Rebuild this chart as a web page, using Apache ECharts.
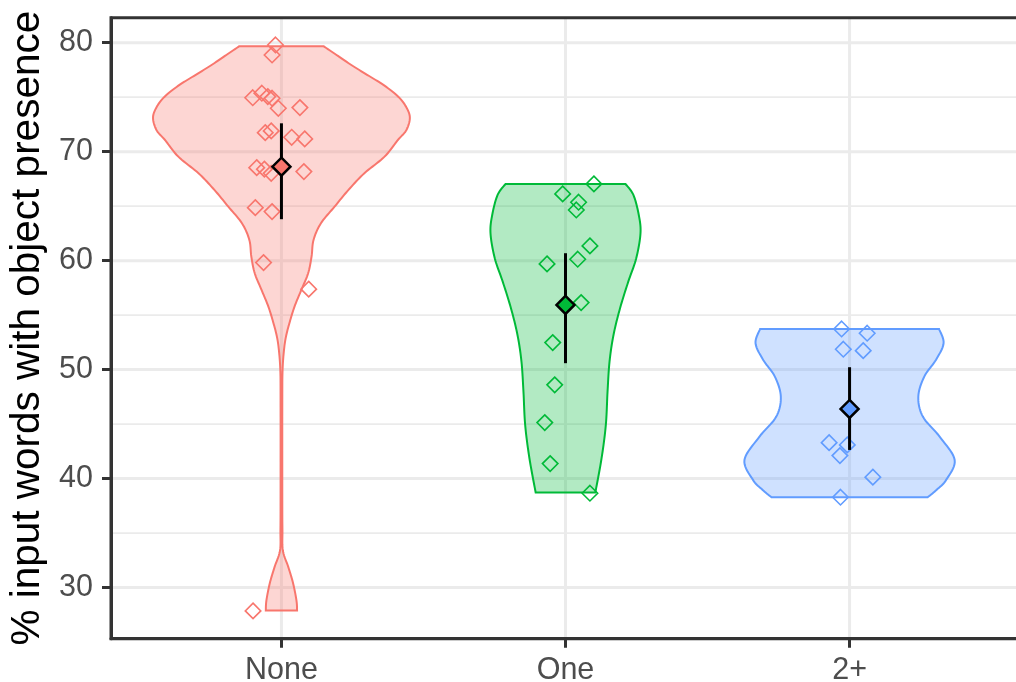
<!DOCTYPE html>
<html><head><meta charset="utf-8">
<script src="https://cdn.jsdelivr.net/npm/echarts@6/dist/echarts.min.js"></script>
<style>html,body{margin:0;padding:0;background:#fff}#c{width:1016px;height:682px}</style>
</head><body><div id="c"></div>
<script>
const categories = ['None', 'One', '2+'];
const yTicks = [30, 40, 50, 60, 70, 80];
const yMinorLines = [35, 45, 55, 65, 75];
const yTitle = '% input words with object presence';

// violin outlines: y value and half-width (category units)
const noneViolinY = [79.66, 78.87, 77.95, 77.03, 76.12, 75.20, 74.28, 73.18, 71.99, 71.07, 69.54, 68.02, 66.49, 64.95, 63.43, 61.90, 60.37, 58.84, 57.31, 55.78, 54.26, 53.03, 51.81, 49.97, 47.2, 38.0, 35.3, 33.4, 31.9, 30.4, 28.8, 27.89];
const noneViolinW = [0.149, 0.194, 0.246, 0.303, 0.359, 0.405, 0.435, 0.452, 0.440, 0.410, 0.363, 0.292, 0.236, 0.187, 0.139, 0.113, 0.106, 0.094, 0.070, 0.046, 0.028, 0.016, 0.009, 0.004, 0.003, 0.003, 0.0035, 0.005, 0.024, 0.041, 0.053, 0.055];
const oneViolinY = [67.04, 66.03, 64.19, 62.51, 60.22, 58.07, 55.63, 53.18, 50.73, 47.98, 44.93, 41.87, 38.72];
const oneViolinW = [0.211, 0.239, 0.258, 0.264, 0.249, 0.221, 0.192, 0.169, 0.155, 0.148, 0.142, 0.127, 0.105];
const twoViolinY = [53.73, 52.42, 50.89, 49.36, 47.52, 45.69, 43.85, 41.71, 39.88, 38.96, 38.29];
const twoViolinW = [0.315, 0.331, 0.304, 0.263, 0.242, 0.258, 0.317, 0.370, 0.340, 0.306, 0.275];

// individual points: jitter offset (category units) and value
const noneJitter = [-0.021, -0.033, -0.101, -0.069, -0.048, -0.033, -0.011, 0.065, -0.057, -0.036, 0.036, 0.082, -0.087, -0.060, -0.036, 0.079, -0.092, -0.033, -0.063, 0.096, -0.100];
const noneValues = [79.79, 78.87, 74.95, 75.36, 75.05, 74.90, 73.98, 74.04, 71.74, 71.90, 71.32, 71.17, 68.53, 68.39, 68.01, 68.17, 64.86, 64.50, 59.82, 57.38, 27.86];
const oneJitter = [0.100, -0.010, 0.046, 0.038, 0.086, 0.043, -0.065, 0.055, -0.045, -0.038, -0.073, -0.054, 0.086];
const oneValues = [67.04, 66.12, 65.36, 64.65, 61.35, 60.13, 59.70, 56.15, 52.48, 48.60, 45.14, 41.38, 38.66];
const twoJitter = [-0.028, 0.062, -0.022, 0.048, -0.072, -0.008, -0.034, 0.082, -0.032];
const twoValues = [53.73, 53.34, 51.87, 51.74, 43.30, 43.09, 42.11, 40.13, 38.29];

const means = [68.62, 55.94, 46.39];
const errLow = [63.80, 50.59, 42.63];
const errHigh = [72.60, 60.68, 50.22];

const colors = ['#F8766D', '#00BA38', '#619CFF'];
const fills = ['rgba(248,118,109,0.3)', 'rgba(0,186,56,0.3)', 'rgba(97,156,255,0.3)'];
const FONT = '"Liberation Sans", Arial, sans-serif';

function splineSample(pts, n) {
  const out = [];
  for (let i = 0; i < pts.length - 1; i++) {
    const p0 = pts[i - 1] || pts[i], p1 = pts[i], p2 = pts[i + 1], p3 = pts[i + 2] || pts[i + 1];
    for (let k = 0; k < n; k++) {
      const t = k / n, t2 = t * t, t3 = t2 * t;
      const f = j => 0.5 * ((2 * p1[j]) + (-p0[j] + p2[j]) * t + (2 * p0[j] - 5 * p1[j] + 4 * p2[j] - p3[j]) * t2 + (-p0[j] + 3 * p1[j] - 3 * p2[j] + p3[j]) * t3);
      out.push([f(0), f(1)]);
    }
  }
  out.push(pts[pts.length - 1]);
  return out;
}

function violinSeries(ys, ws, ci) {
  return {
    type: 'custom', z: 2, silent: true, clip: false,
    data: [[ci + 1, means[ci]]],
    renderItem: function (params, api) {
      const pts = splineSample(ys.map((y, i) => [y, ws[i]]), 10);
      const cx = ci + 1;
      const right = pts.map(p => api.coord([cx + Math.max(p[1], 0.0025), p[0]]));
      const left = pts.map(p => api.coord([cx - Math.max(p[1], 0.0025), p[0]])).reverse();
      return { type: 'polygon', shape: { points: right.concat(left) },
        style: { fill: fills[ci], stroke: colors[ci], lineWidth: 2 } };
    }
  };
}

function pointSeries(jit, vals, ci) {
  return {
    type: 'scatter', z: 3, silent: true, symbol: 'diamond', symbolSize: 15.5,
    data: vals.map((v, i) => [ci + 1 + jit[i], v]),
    itemStyle: { color: 'rgba(0,0,0,0)', borderColor: colors[ci], borderWidth: 1.6, opacity: 1 }
  };
}

function hLines(vals, width) {
  return {
    type: 'custom', z: 1, silent: true, clip: false,
    data: vals.map(v => [1, v]),
    renderItem: function (params, api) {
      const cs = params.coordSys;
      const y = api.coord([1, api.value(1)])[1];
      return { type: 'line', shape: { x1: cs.x, y1: y, x2: cs.x + cs.width, y2: y },
        style: { stroke: '#ebebeb', lineWidth: width } };
    }
  };
}

const chart = echarts.init(document.getElementById('c'), null, { renderer: 'canvas' });
chart.setOption({
  animation: false,
  backgroundColor: '#ffffff',
  grid: { left: 111, width: 909, top: 17.7, height: 621, containLabel: false, outerBoundsMode: 'none', show: true, borderColor: '#333333', borderWidth: 3, backgroundColor: 'rgba(0,0,0,0)', z: 10 },
  xAxis: {
    type: 'value', min: 0.4, max: 3.6, z: 10,
    splitLine: { show: false },
    axisLine: { show: true, onZero: false, lineStyle: { color: '#333333', width: 3 } },
    axisTick: { show: true, customValues: [1, 2, 3], length: 9, lineStyle: { color: '#333333', width: 3 } },
    axisLabel: { customValues: [1, 2, 3], formatter: v => categories[Math.round(v) - 1], fontSize: 30.5, color: '#4d4d4d', margin: 16, fontFamily: FONT }
  },
  yAxis: {
    type: 'value', min: 25.31, max: 82.29, z: 10,
    splitLine: { show: false },
    axisLine: { show: true, onZero: false, lineStyle: { color: '#333333', width: 3 } },
    axisTick: { show: true, customValues: yTicks, length: 9, lineStyle: { color: '#333333', width: 3 } },
    axisLabel: { customValues: yTicks, fontSize: 30.5, color: '#4d4d4d', margin: 18, fontFamily: FONT },
    name: yTitle, nameLocation: 'middle', nameRotate: 90, nameGap: 61,
    nameTextStyle: { fontSize: 40.5, color: '#000000', fontFamily: FONT }
  },
  series: [
    hLines(yMinorLines, 1.7),
    hLines(yTicks, 3),
    {
      type: 'custom', z: 1, silent: true, clip: false,
      data: categories.map((c, i) => [i + 1, 50]),
      renderItem: function (params, api) {
        const cs = params.coordSys;
        const x = api.coord([api.value(0), 50])[0];
        return { type: 'line', shape: { x1: x, y1: cs.y, x2: x, y2: cs.y + cs.height },
          style: { stroke: '#ebebeb', lineWidth: 3 } };
      }
    },
    violinSeries(noneViolinY, noneViolinW, 0),
    violinSeries(oneViolinY, oneViolinW, 1),
    violinSeries(twoViolinY, twoViolinW, 2),
    pointSeries(noneJitter, noneValues, 0),
    pointSeries(oneJitter, oneValues, 1),
    pointSeries(twoJitter, twoValues, 2),
    {
      type: 'custom', z: 4, silent: true, clip: false,
      data: categories.map((c, i) => [i + 1, errLow[i], errHigh[i]]),
      renderItem: function (params, api) {
        const a = api.coord([api.value(0), api.value(1)]);
        const b = api.coord([api.value(0), api.value(2)]);
        return { type: 'line', shape: { x1: a[0], y1: a[1], x2: b[0], y2: b[1] },
          style: { stroke: '#000000', lineWidth: 3 } };
      }
    },
    {
      type: 'scatter', z: 5, silent: true, symbol: 'diamond', symbolSize: 18,
      data: means.map((m, i) => ({ value: [i + 1, m], itemStyle: { color: colors[i] } })),
      itemStyle: { borderColor: '#000000', borderWidth: 2.5, opacity: 1 }
    }
  ]
});
</script>
</body></html>
